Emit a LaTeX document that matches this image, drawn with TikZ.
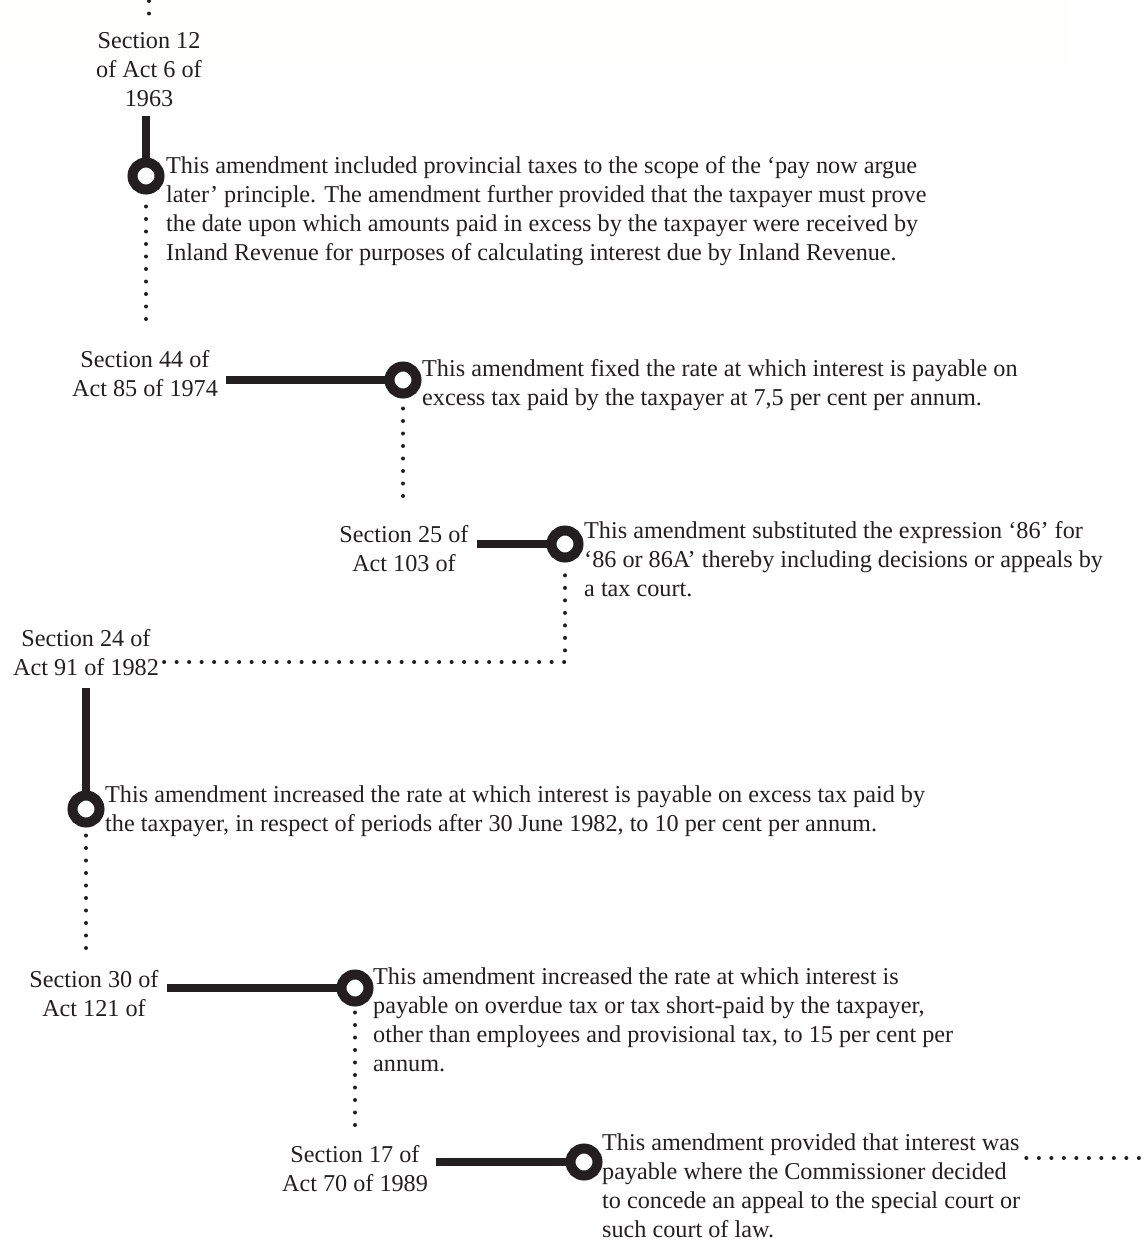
\documentclass[tikz,border=0pt]{standalone}
\usepackage{fontspec}
\setmainfont{Liberation Serif}
\usetikzlibrary{calc}
\definecolor{ink}{RGB}{35,31,32}
\definecolor{paper}{RGB}{254,254,253}
\begin{document}
\begin{tikzpicture}[x=1pt,y=-1pt,
  every node/.style={text=ink, font=\fontsize{24.2}{29}\selectfont},
  lab/.style={align=center, inner xsep=8pt, inner ysep=0pt, anchor=base},
  para/.style={align=left, inner sep=0pt, anchor=base west},
  ring/.style={circle, draw=ink, line width=10pt, minimum size=27pt, inner sep=0pt},
  stem/.style={draw=ink, line width=7.5pt},
  dots/.style={draw=ink, line width=4pt, line cap=round, dash pattern=on 0pt off 12.5pt},
]
\fill[paper] (0,0) rectangle (1070,65);
\useasboundingbox (0,0) rectangle (1148,1242);

% entry 1 (anchors at the baseline of the last line)
\node[lab] (s1) at (149,106) {Section 12\\of Act 6 of\\1963};
\node[ring] (c1) at (146,176) {};
\node[para] (p1) at (166,260) {This amendment included provincial taxes to the scope of the ‘pay now argue\\later’ principle. The amendment further provided that the taxpayer must prove\\the date upon which amounts paid in excess by the taxpayer were received by\\Inland Revenue for purposes of calculating interest due by Inland Revenue.};

% entry 2
\node[lab] (s2) at (145,396) {Section 44 of\\Act 85 of 1974};
\node[ring] (c2) at (403,380) {};
\node[para] (p2) at (422,405) {This amendment fixed the rate at which interest is payable on\\excess tax paid by the taxpayer at 7,5 per cent per annum.};

% entry 3
\node[lab] (s3) at (404,571) {Section 25 of\\Act 103 of};
\node[ring] (c3) at (565,544) {};
\node[para] (p3) at (584,596) {This amendment substituted the expression ‘86’ for\\‘86 or 86A’ thereby including decisions or appeals by\\a tax court.};

% entry 4
\node[lab] (s4) at (86,675) {Section 24 of\\Act 91 of 1982};
\node[ring] (c4) at (86,809) {};
\node[para] (p4) at (105,831) {This amendment increased the rate at which interest is payable on excess tax paid by\\the taxpayer, in respect of periods after 30 June 1982, to 10 per cent per annum.};

% entry 5
\node[lab] (s5) at (94,1016) {Section 30 of\\Act 121 of};
\node[ring] (c5) at (355,988) {};
\node[para] (p5) at (373,1071) {This amendment increased the rate at which interest is\\payable on overdue tax or tax short-paid by the taxpayer,\\other than employees and provisional tax, to 15 per cent per\\annum.};

% entry 6
\node[lab] (s6) at (355,1191) {Section 17 of\\Act 70 of 1989};
\node[ring] (c6) at (584,1162) {};
\node[para] (p6) at (602,1237) {This amendment provided that interest was\\payable where the Commissioner decided\\to concede an appeal to the special court or\\such court of law.};

\coordinate (top) at (149,1);
\coordinate (bend) at (565,662);
\coordinate (rt) at (1150,1158);

% connectors
\draw[dots, shorten >=10pt] (top) -- (top |- s1.north);
\draw[stem, shorten <=10pt] (s1.south -| c1) -- (c1.north);
\draw[dots, shorten <=12pt, shorten >=19pt] (c1.south) -- (c1.south |- s2.north);
\draw[stem] (s2.east |- c2) -- (c2.west);
\draw[dots, shorten <=10pt, shorten >=17pt] (c2.south) -- (c2.south |- s3.north);
\draw[stem] (s3.east |- c3) -- (c3.west);
\draw[dots, shorten >=8pt] ([xshift=-3pt]bend -| s4.east) -- (bend) -- (c3.south);
\draw[stem, shorten <=13pt] (s4.south -| c4) -- (c4.north);
\draw[dots, shorten <=8pt, shorten >=13pt] (c4.south) -- (c4.south |- s5.north);
\draw[stem] (s5.east |- c5) -- (c5.west);
\draw[dots, shorten <=6pt, shorten >=18pt] (c5.south) -- (c5.south |- s6.north);
\draw[stem] (s6.east |- c6) -- (c6.west);
\draw[dots] ([xshift=6pt]p6.east |- rt) -- (rt);
\end{tikzpicture}
\end{document}
